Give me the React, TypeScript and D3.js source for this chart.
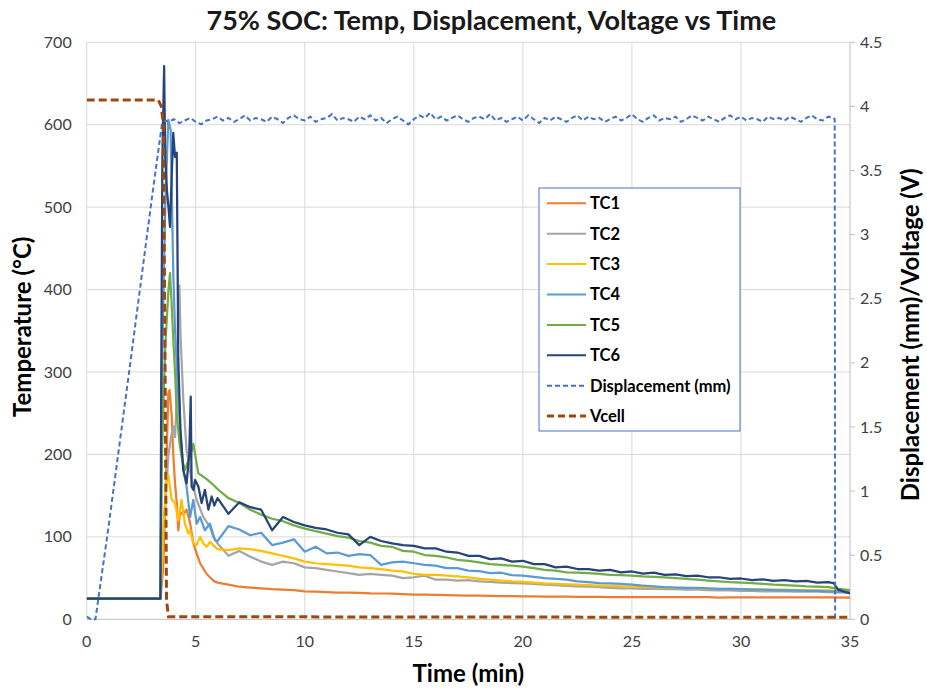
import React from 'react';
import * as d3 from 'd3';

type Pt = [number, number];

// sample times for the slowly decaying part of every thermocouple trace (min)
const tailTimes = [
  6, 6.5, 7, 7.5, 8, 8.5, 9, 9.5, 10, 10.5,
  11, 11.5, 12, 12.5, 13, 13.5, 14, 14.5, 15, 15.5,
  16, 16.5, 17, 17.5, 18, 18.5, 19, 19.5, 20, 20.5,
  21, 21.5, 22, 22.5, 23, 23.5, 24, 24.5, 25, 25.5,
  26, 26.5, 27, 27.5, 28, 28.5, 29, 29.5, 30, 30.5,
  31, 31.5, 32, 32.5, 33, 33.5, 34,
];

// TC1
const tc1Head: Pt[] = [
  [0, 25], [3.38, 25], [3.5, 60], [3.62, 150], [3.74, 274], [3.8, 278], [3.9, 246],
  [3.97, 200], [4.05, 165], [4.13, 141], [4.2, 108], [4.28, 130], [4.43, 127],
  [4.58, 133], [4.74, 117], [4.89, 92], [5.04, 80], [5.2, 68], [5.5, 55], [5.65, 51], [5.85, 46],
];
const tc1Tail = [
  44.5, 42, 39.5, 38.5, 37.5, 36.5, 36, 35.5, 34, 33.5,
  33, 32.5, 32.3, 32, 31.5, 31.3, 31, 30.5, 30, 29.8,
  29.5, 29.3, 29, 28.8, 28.6, 28.4, 28.2, 28, 27.8, 27.7,
  27.6, 27.5, 27.4, 27.3, 27.2, 27.1, 27, 27, 27, 26.9,
  26.9, 26.9, 26.8, 26.8, 26.8, 26.8, 26.2, 26.6, 26.5, 26.5,
  26.5, 26.5, 26.5, 26.5, 26.5, 26.5, 26.5,
];
const tc1End: Pt[] = [[35, 26.3]];

// TC2
const tc2Head: Pt[] = [
  [0, 25], [3.38, 25], [3.55, 120], [3.75, 200], [3.9, 226], [3.97, 234], [4.05, 221],
  [4.12, 260], [4.2, 390], [4.25, 405], [4.3, 347], [4.43, 266], [4.58, 205], [4.81, 169],
  [5.04, 145], [5.35, 124], [5.65, 112], [5.8, 100],
];
const tc2Tail = [
  92, 77, 83, 76, 70, 66, 70, 68, 63, 62,
  60, 58, 56, 54, 55, 54, 53, 50, 51, 53,
  48, 48, 47, 47.5, 46, 45.5, 44.5, 44, 43.5, 43,
  42, 41.5, 40.5, 40, 39.5, 39, 38, 37.5, 37.5, 37,
  37, 36.5, 36.5, 36, 36, 35.5, 35, 35, 34.5, 34.5,
  34, 34, 34, 33.5, 33.5, 33.5, 33,
];
const tc2End: Pt[] = [[35, 32]];

// TC3
const tc3Head: Pt[] = [
  [0, 25], [3.38, 25], [3.5, 100], [3.67, 177], [3.74, 175], [3.9, 145], [4.05, 141],
  [4.2, 120], [4.35, 145], [4.5, 116], [4.66, 104], [4.74, 108], [4.89, 92], [5.04, 90],
  [5.2, 100], [5.35, 92], [5.5, 88], [5.65, 94], [5.8, 90],
];
const tc3Tail = [
  85, 84, 86, 85, 83, 80, 77, 74, 70, 68,
  67, 66, 65, 63, 62, 61, 59, 58, 55, 54,
  54, 53, 52, 51, 49, 48, 47, 46, 45.5, 44.5,
  43.5, 43, 42.5, 42, 41.5, 41, 40.5, 40, 39.5, 39,
  39, 38.5, 38, 38, 37.5, 37, 37, 37, 36.5, 36.5,
  36, 36, 36, 35.5, 35.5, 35, 35,
];
const tc3End: Pt[] = [[35, 34]];

// TC4
const tc4Head: Pt[] = [
  [0, 25], [3.38, 25], [3.45, 300], [3.6, 500], [3.74, 606], [3.85, 594], [3.97, 420],
  [4.05, 351], [4.28, 230], [4.43, 181], [4.58, 161], [4.74, 124], [4.89, 145], [5.04, 116],
  [5.2, 124], [5.42, 108], [5.65, 116], [5.88, 96],
];
const tc4Tail = [
  95, 113, 109, 102, 105, 90, 93, 97, 82, 88,
  80, 81, 77, 79, 78, 66, 69, 70, 68, 66,
  65, 62, 62, 59, 58.5, 56, 56.5, 53.5, 53, 51.5,
  50, 49, 48, 46, 45, 44, 43.5, 43, 42, 41,
  40, 39, 38.5, 38, 38, 37.5, 37, 37, 36.5, 36,
  36, 35.5, 35, 35, 34.5, 34.5, 34,
];
const tc4End: Pt[] = [[35, 33]];

// TC5
const tc5Head: Pt[] = [
  [0, 25], [3.38, 25], [3.45, 200], [3.6, 330], [3.75, 400], [3.82, 420], [3.9, 380],
  [3.97, 339], [4.05, 300], [4.13, 250], [4.25, 215], [4.35, 197], [4.5, 181], [4.62, 190],
  [4.74, 197], [4.89, 213], [4.97, 200], [5.12, 177], [5.35, 173], [5.5, 170], [5.73, 165],
];
const tc5Tail = [
  158, 147, 141, 133, 127, 122, 119, 114, 110, 107,
  104, 101, 99, 95, 93, 89, 88, 83, 82, 78,
  77, 75, 72, 71, 69, 67, 66, 65, 64, 62,
  60, 59, 57, 56.5, 56, 55, 54, 53.5, 53, 52,
  51.5, 51, 50, 49, 48, 47, 46, 45, 44.5, 44,
  43, 42, 41.5, 41, 40, 39.5, 39,
];
const tc5End: Pt[] = [[34.5, 37], [35, 35.5]];

// TC6
const tc6Head: Pt[] = [
  [0, 25], [3.38, 25], [3.42, 300], [3.47, 560], [3.55, 671], [3.6, 560], [3.68, 520],
  [3.75, 500], [3.82, 476], [3.9, 540], [3.97, 590], [4.05, 561], [4.13, 566], [4.2, 315],
  [4.3, 230], [4.43, 181], [4.58, 165], [4.7, 200], [4.77, 270], [4.81, 161], [4.9, 157],
  [4.97, 169], [5.12, 161], [5.27, 141], [5.42, 157], [5.58, 133], [5.73, 149], [5.85, 138],
];
const tc6Tail = [
  147, 128, 142, 136, 133, 108, 124, 118, 114, 111,
  109, 105, 103, 90, 100, 95, 92, 90, 89, 86,
  86, 82, 81, 77, 77, 73, 74, 70, 71, 67,
  67, 63, 64, 61, 61, 59, 60, 57, 58, 55.5,
  56.5, 54, 54.5, 52.5, 53, 51, 51, 49, 49.5, 47.5,
  48.5, 46.5, 47.5, 46, 46.5, 44.5, 45,
];
const tc6End: Pt[] = [[34.25, 44], [34.45, 36], [35, 31.5]];

// Displacement (mm), right axis
const displacement: Pt[] = [
  [0, 0.02], [0.2, 0], [0.4, 0], [1, 0.72], [1.5, 1.36], [2, 2], [2.5, 2.65], [3, 3.3],
  [3.45, 3.86], [3.6, 3.89],
  [3.75, 3.88], [4, 3.9], [4.25, 3.87], [4.5, 3.89], [4.75, 3.91], [5, 3.88], [5.25, 3.86], [5.5, 3.89], [5.75, 3.9], [6, 3.92],
  [6.25, 3.89], [6.5, 3.91], [6.75, 3.88], [7, 3.9], [7.25, 3.93], [7.5, 3.89], [7.75, 3.91], [8, 3.9], [8.25, 3.88], [8.5, 3.92],
  [8.75, 3.9], [9, 3.87], [9.25, 3.91], [9.5, 3.93], [9.75, 3.9], [10, 3.89], [10.25, 3.92], [10.5, 3.88], [10.75, 3.9], [11, 3.91],
  [11.25, 3.94], [11.5, 3.89], [11.75, 3.91], [12, 3.9], [12.25, 3.88], [12.5, 3.92], [12.75, 3.9], [13, 3.93], [13.25, 3.89], [13.5, 3.91],
  [13.75, 3.87], [14, 3.9], [14.25, 3.92], [14.5, 3.89], [14.75, 3.86], [15, 3.9], [15.25, 3.93], [15.5, 3.91], [15.75, 3.95], [16, 3.9],
  [16.25, 3.92], [16.5, 3.89], [16.75, 3.91], [17, 3.93], [17.25, 3.9], [17.5, 3.88], [17.75, 3.91], [18, 3.92], [18.25, 3.9], [18.5, 3.94],
  [18.75, 3.89], [19, 3.91], [19.25, 3.88], [19.5, 3.9], [19.75, 3.92], [20, 3.89], [20.25, 3.93], [20.5, 3.9], [20.75, 3.87], [21, 3.91],
  [21.25, 3.89], [21.5, 3.92], [21.75, 3.9], [22, 3.88], [22.25, 3.91], [22.5, 3.93], [22.75, 3.89], [23, 3.92], [23.25, 3.9], [23.5, 3.91],
  [23.75, 3.88], [24, 3.9], [24.25, 3.92], [24.5, 3.89], [24.75, 3.91], [25, 3.94], [25.25, 3.9], [25.5, 3.88], [25.75, 3.91], [26, 3.93],
  [26.25, 3.89], [26.5, 3.91], [26.75, 3.9], [27, 3.92], [27.25, 3.88], [27.5, 3.9], [27.75, 3.93], [28, 3.91], [28.25, 3.89], [28.5, 3.92],
  [28.75, 3.9], [29, 3.88], [29.25, 3.91], [29.5, 3.93], [29.75, 3.9], [30, 3.92], [30.25, 3.89], [30.5, 3.91], [30.75, 3.9], [31, 3.88],
  [31.25, 3.92], [31.5, 3.9], [31.75, 3.91], [32, 3.89], [32.25, 3.92], [32.5, 3.9], [32.75, 3.88], [33, 3.91], [33.25, 3.93], [33.5, 3.9],
  [33.75, 3.89], [34, 3.92], [34.25, 3.91], [34.3, 3.9], [34.32, 0],
];

// Vcell (V), right axis
const vcell: Pt[] = [
  [0, 4.05], [3.28, 4.05], [3.42, 4.0], [3.52, 3.85], [3.6, 1.8], [3.66, 0.15], [3.75, 0.02], [35, 0.015],
];

const leftTicks = [0, 100, 200, 300, 400, 500, 600, 700];
const rightTicks = [0, 0.5, 1, 1.5, 2, 2.5, 3, 3.5, 4, 4.5];
const timeTicks = [0, 5, 10, 15, 20, 25, 30, 35];

const withTail = (head: Pt[], tail: number[], end: Pt[]): Pt[] => [
  ...head,
  ...tail.map((v, i) => [tailTimes[i], v] as Pt),
  ...end,
];

const tcSeries = [
  { name: 'TC1', color: '#ED7D31', data: withTail(tc1Head, tc1Tail, tc1End) },
  { name: 'TC2', color: '#A5A5A5', data: withTail(tc2Head, tc2Tail, tc2End) },
  { name: 'TC3', color: '#FFC000', data: withTail(tc3Head, tc3Tail, tc3End) },
  { name: 'TC4', color: '#5B9BD5', data: withTail(tc4Head, tc4Tail, tc4End) },
  { name: 'TC5', color: '#70AD47', data: withTail(tc5Head, tc5Tail, tc5End) },
  { name: 'TC6', color: '#264478', data: withTail(tc6Head, tc6Tail, tc6End) },
];

const W = 927;
const H = 689;
const left = 86.7;
const right = 850;
const top = 42.3;
const bottom = 619.3;
const font = "Lato, 'Open Sans', sans-serif";

export default function App() {
  const x = d3.scaleLinear().domain([0, 35]).range([left, right]);
  const yL = d3.scaleLinear().domain([0, 700]).range([bottom, top]);
  const yR = d3.scaleLinear().domain([0, 4.5]).range([bottom, top]);

  const lineL = d3.line<Pt>().x(d => x(d[0])).y(d => yL(d[1]));
  const lineR = d3.line<Pt>().x(d => x(d[0])).y(d => yR(d[1]));

  const legendItems = [
    ...tcSeries.map(s => ({ name: s.name, color: s.color, dash: undefined as string | undefined, w: 2 })),
    { name: 'Displacement (mm)', color: '#4472C4', dash: '5,3', w: 2 },
    { name: 'Vcell', color: '#9E480E', dash: '7,4', w: 3 },
  ];

  return (
    <svg width={W} height={H} style={{ position: 'absolute', left: 0, top: 0, background: '#fff' }} fontFamily={font}>
      <rect x={0} y={0} width={W} height={H} fill="#fff" />
      <defs>
        <clipPath id="plot">
          <rect x={left} y={top - 2} width={right - left} height={bottom - top + 4} />
        </clipPath>
      </defs>

      {/* grid */}
      {leftTicks.filter(t => t > 0).map(t => (
        <line key={'h' + t} x1={left} x2={right} y1={yL(t)} y2={yL(t)} stroke="#d9d9d9" strokeWidth={1} />
      ))}
      {timeTicks.filter(t => t > 0 && t < 35).map(t => (
        <line key={'v' + t} x1={x(t)} x2={x(t)} y1={top} y2={bottom} stroke="#d9d9d9" strokeWidth={1} />
      ))}
      <line x1={left} x2={left} y1={top} y2={bottom} stroke="#d9d9d9" strokeWidth={1} />
      <line x1={left} x2={right} y1={bottom} y2={bottom} stroke="#bfbfbf" strokeWidth={1} />
      <line x1={right} x2={right} y1={top} y2={bottom} stroke="#bfbfbf" strokeWidth={1} />
      {rightTicks.map(t => (
        <line key={'rt' + t} x1={right} x2={right + 5} y1={yR(t)} y2={yR(t)} stroke="#bfbfbf" strokeWidth={1} />
      ))}

      {/* tick labels */}
      {leftTicks.map(t => (
        <text key={'lt' + t} x={left - 15} y={yL(t)} dy="0.35em" textAnchor="end" fontSize={16} fill="#404040">{t}</text>
      ))}
      {rightTicks.map(t => (
        <text key={'rl' + t} x={right + 10} y={yR(t)} dy="0.35em" textAnchor="start" fontSize={16} fill="#404040">{t}</text>
      ))}
      {timeTicks.map(t => (
        <text key={'bt' + t} x={x(t)} y={bottom + 28} textAnchor="middle" fontSize={16} fill="#404040">{t}</text>
      ))}

      {/* data */}
      <g clipPath="url(#plot)" fill="none">
        {tcSeries.map(s => (
          <path key={s.name} d={lineL(s.data) || ''} stroke={s.color} strokeWidth={2.25} strokeLinejoin="round" />
        ))}
        <path d={lineR(displacement) || ''} stroke="#4472C4" strokeWidth={2} strokeDasharray="5,3" />
        <path d={lineR(vcell) || ''} stroke="#9E480E" strokeWidth={3} strokeDasharray="8,4" />
      </g>

      {/* legend */}
      <rect x={539} y={188} width={201} height={243} fill="#fff" stroke="#4472C4" strokeWidth={1} />
      {legendItems.map((it, i) => {
        const ly = 203.3 + i * 30.4;
        return (
          <g key={it.name}>
            <line x1={547} x2={586} y1={ly} y2={ly} stroke={it.color} strokeWidth={it.w} strokeDasharray={it.dash} />
            <text x={590} y={ly} dy="0.36em" fontSize={16.5} fontWeight="bold" fill="#000">{it.name}</text>
          </g>
        );
      })}

      {/* titles */}
      <text x={(left + right) / 2 + 23} y={30} textAnchor="middle" fontSize={27} fontWeight="bold" fill="#1a1a1a">
        75% SOC: Temp, Displacement, Voltage vs Time
      </text>
      <text x={(left + right) / 2} y={682} textAnchor="middle" fontSize={24} fontWeight="bold" fill="#000">Time (min)</text>
      <text transform={`translate(31, ${(top + bottom) / 2 - 4}) rotate(-90)`} textAnchor="middle" fontSize={24} fontWeight="bold" fill="#000">
        Temperature (°C)
      </text>
      <text transform={`translate(919, ${(top + bottom) / 2 + 4}) rotate(-90)`} textAnchor="middle" fontSize={24} fontWeight="bold" fill="#000">
        Displacement (mm)/Voltage (V)
      </text>
    </svg>
  );
}
